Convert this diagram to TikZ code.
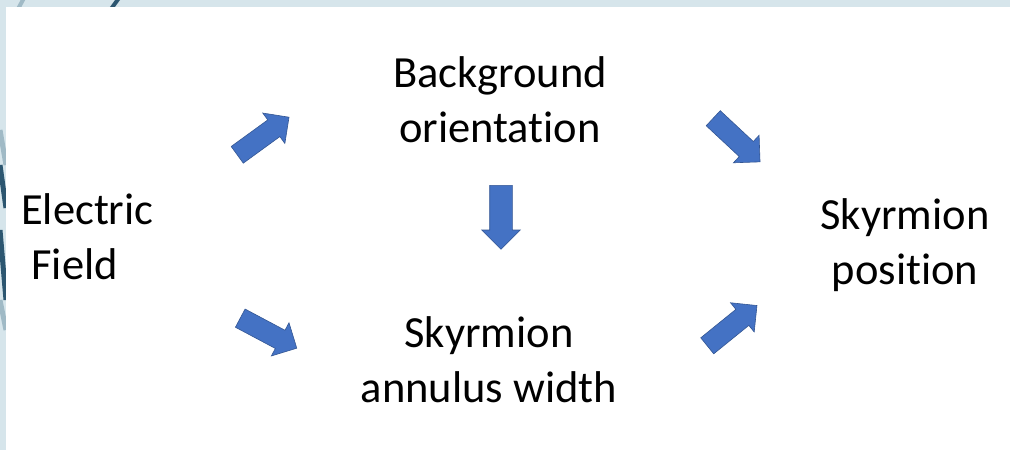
\documentclass[tikz,border=0pt]{standalone}
\usepackage{fontspec}
\setmainfont{Carlito}[Ligatures=NoCommon]
\usetikzlibrary{shapes.arrows,positioning}
\definecolor{arrowblue}{RGB}{68,114,196}
\definecolor{slideblue}{RGB}{214,229,235}
\definecolor{slidedark}{RGB}{44,86,112}
\definecolor{slidemid}{RGB}{160,186,198}

\begin{document}
\begin{tikzpicture}[
    x=1pt, y=-1pt,
    txt/.style={align=center, inner sep=0pt, font=\fontsize{44.5}{55}\selectfont},
    blockarrow/.style={single arrow, anchor=tail, fill=arrowblue, draw=arrowblue!75!black, line width=0.6pt, inner xsep=0pt, inner ysep=10pt, minimum height=64pt, single arrow head extend=8.5pt}
]
    % Slide background
    \useasboundingbox (0,0) rectangle (1010,450);
    \fill[slideblue] (0,0) rectangle (1010,450);
    \draw[slidemid, line width=4pt] (18,9) -- (24,-2);
    \draw[slidedark, line width=4pt] (111,9) -- (119,-2);
    \draw[slidemid, line width=5pt] (0,130) -- (6,165);
    \draw[slidedark, line width=5pt] (0,165) -- (6,208);
    \draw[slidedark, line width=5pt] (0,230) -- (6,300);
    \draw[slidemid, line width=5pt] (0,300) -- (6,330);
    \fill[white] (6,7) rectangle (1010,450);

    % Quantities
    \node[txt, align=left, anchor=west] (field) at (21,237) {Electric\\\hspace*{0.23em}Field};
    \node[txt] (orient) at (500,100) {Background\\orientation};
    \node[txt] (annulus) at (489,360) {Skyrmion\\annulus width};
    \node[txt] (pos) at (905,245) {Skyrmion\\position};

    % Influences
    \node[blockarrow, rotate=36] (fieldorient) at (237,155) {};
    \node[blockarrow, rotate=-28] (fieldannulus) at (240,318) {};
    \node[blockarrow, rotate=-90, inner ysep=11pt, single arrow head extend=8pt] (orientannulus) at (501,185) {};
    \node[blockarrow, rotate=-43] (orientpos) at (713,118) {};
    \node[blockarrow, rotate=39] (annuluspos) at (707,346) {};
\end{tikzpicture}
\end{document}
